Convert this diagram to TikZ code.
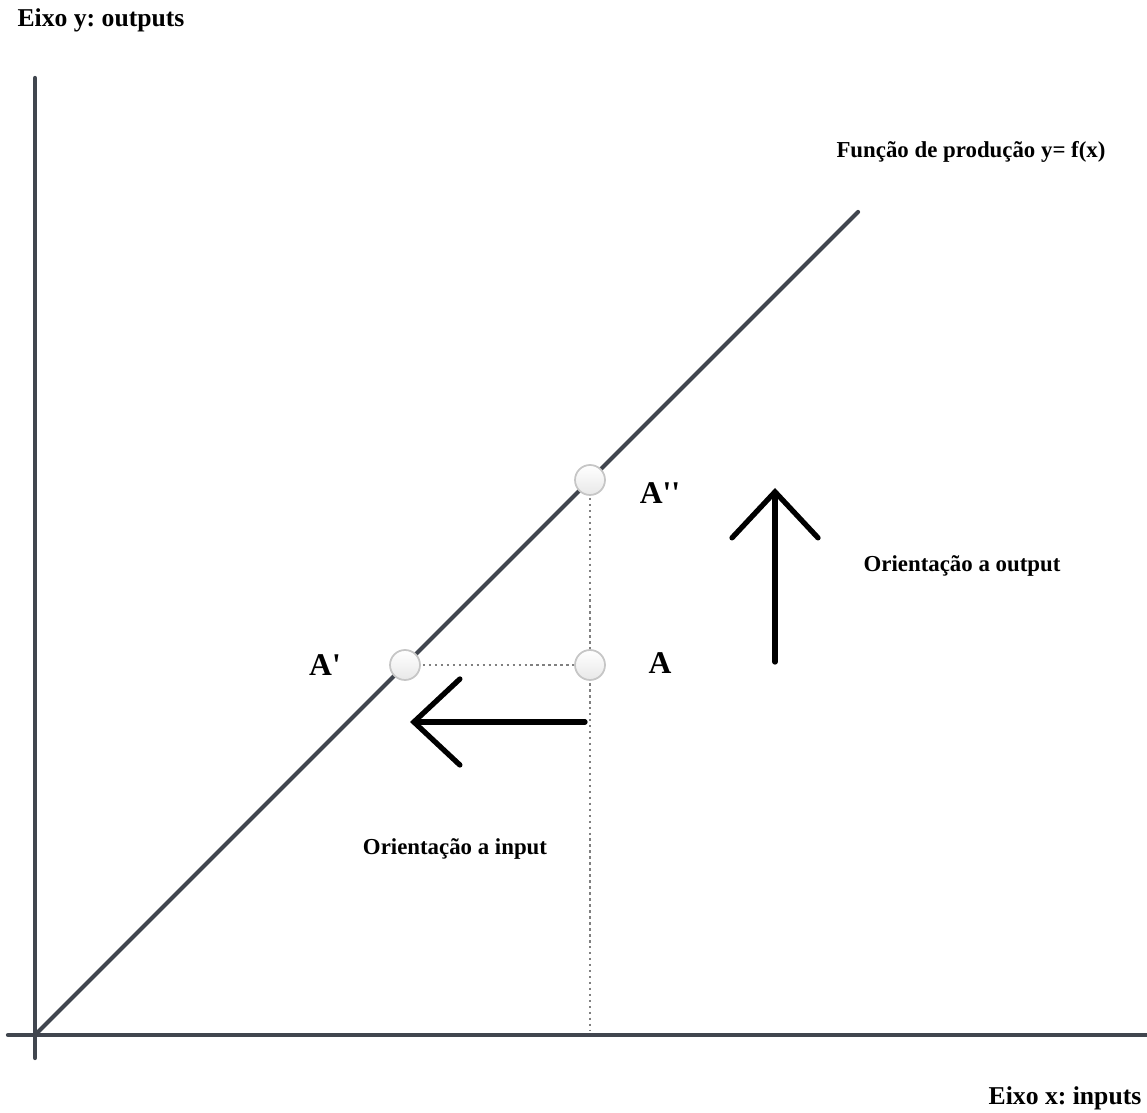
\documentclass[tikz,border=0pt]{standalone}
\usepackage{fontspec}
\setmainfont{Liberation Serif}
\usepackage{textcomp}
\usepackage{tikz}
\usetikzlibrary{arrows.meta}
\usetikzlibrary{calc}
\usepackage{xcolor}
\definecolor{axisgray}{HTML}{41464F}
\frenchspacing

\begin{document}
\begin{tikzpicture}[scale=1,
    axis/.style={line width=1.2pt,axisgray,line cap=round},
    point/.style={circle,minimum size=0.3cm,inner sep=0pt,draw=gray!45,line width=0.5pt,top color=white,bottom color=gray!18},
    guide/.style={densely dotted,gray,line width=0.7pt},
    move/.style={line width=1.5pt,line cap=round,-{Straight Barb[length=4.6mm,width=8.6mm,line cap=round]}},
    lbl/.style={font=\bfseries\fontsize{6.5}{8}\selectfont},
    axlbl/.style={font=\bfseries\fontsize{7.3}{8.5}\selectfont},
    ptlbl/.style={font=\bfseries\fontsize{9}{10}\selectfont}
]
\useasboundingbox (0,0) rectangle (11.47,11.12);

% Axes
\coordinate (O) at (0.35,0.77);
\coordinate (ytop) at (0.35,10.34);
\coordinate (ybot) at (0.35,0.54);
\coordinate (xleft) at (0.08,0.77);
\coordinate (xright) at (11.47,0.77);
\draw[axis] (ybot) -- (ytop);
\draw[axis] (xleft) -- (xright);

% Production function
\coordinate (fend) at (8.58,9.00);
\draw[axis] (O) -- (fend);

% Dotted guides
\coordinate (Abot) at (5.90,0.82);
\draw[guide] (5.90,6.32) -- (Abot);
\draw[guide] (4.05,4.47) -- (5.90,4.47);

% Points
\node[point] (App) at (5.90,6.32) {};
\node[point] (Ap) at (4.05,4.47) {};
\node[point] (A) at (5.90,4.47) {};

% Orientation arrows
\coordinate (intail) at (5.85,3.90);
\coordinate (inhead) at (4.10,3.90);
\draw[move] (intail) -- (inhead);
\coordinate (outtail) at (7.75,4.50);
\coordinate (outhead) at (7.75,6.24);
\draw[move] (outtail) -- (outhead);

% Labels
\node[axlbl] (ylab) at (1.01,10.92) {Eixo y: outputs};
\node[axlbl] (xlab) at (10.65,0.14) {Eixo x: inputs};
\node[lbl] (flab) at (9.71,9.60) {Função de produção y= f(x)};
\node[ptlbl] (Applab) at (6.60,6.19) {A\textquotesingle\textquotesingle};
\node[ptlbl] (Aplab) at (3.25,4.47) {A\textquotesingle};
\node[ptlbl] (Alab) at (6.60,4.49) {A};
\node[lbl] (outlab) at (9.62,5.46) {Orientação a output};
\node[lbl] (inlab) at (4.55,2.63) {Orientação a input};

\end{tikzpicture}
\end{document}
